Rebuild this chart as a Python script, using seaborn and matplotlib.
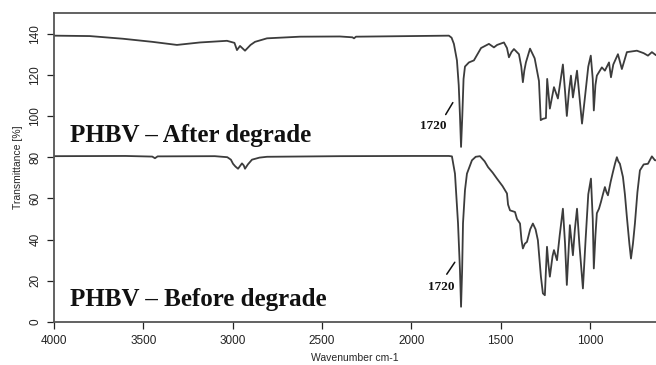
import pandas as pd
import matplotlib
matplotlib.use("Agg")
import matplotlib.pyplot as plt
import seaborn as sns

# Espectro FTIR despues de degradar
wn_after = [4000, 3800, 3614, 3450, 3312, 3183, 3032, 2990, 2976, 2959, 2931, 2900,
            2875, 2808, 2623, 2400, 2330, 2321, 2310, 2000, 1790, 1775, 1762, 1745,
            1735, 1728, 1722, 1715, 1708, 1700, 1678, 1650, 1630, 1610, 1566, 1538,
            1520, 1482, 1465, 1454, 1440, 1426, 1398, 1385, 1376, 1368, 1359, 1336,
            1310, 1286, 1276, 1264, 1247, 1240, 1225, 1202, 1180, 1152, 1140, 1130,
            1118, 1107, 1096, 1073, 1060, 1045, 1030, 1010, 996, 985, 979, 970,
            962, 934, 917, 894, 883, 870, 844, 822, 794, 738, 700, 676, 654, 631]
t_after = [139.0, 138.8, 137.5, 136.0, 134.5, 135.7, 136.5, 135.5, 132.0, 134.0, 131.7, 134.5,
           136.0, 137.7, 138.5, 138.6, 138.2, 137.7, 138.5, 138.8, 139.0, 138.0, 135.0, 127.0,
           115.0, 100.0, 85.0, 100.0, 118.0, 124.0, 126.0, 127.0, 130.0, 133.0, 135.0, 133.3,
           134.5, 135.7, 133.0, 128.5, 131.0, 132.5, 130.0, 124.0, 116.4, 122.0, 126.0, 132.7,
           128.0, 117.0, 98.0, 98.6, 99.0, 118.0, 103.6, 114.0, 108.5, 125.0, 112.0, 100.0,
           112.0, 119.6, 109.0, 122.0, 110.0, 96.3, 108.0, 124.0, 129.3, 118.0, 102.7, 115.0,
           119.6, 123.6, 122.0, 126.0, 118.8, 125.0, 130.0, 122.8, 131.0, 131.7, 130.5, 129.3,
           131.0, 129.5]

# Espectro FTIR antes de degradar
wn_before = [4000, 3600, 3450, 3435, 3420, 3100, 3030, 3010, 2998, 2985, 2970, 2948,
             2938, 2931, 2915, 2892, 2850, 2808, 2400, 2000, 1790, 1773, 1756, 1739,
             1728, 1722, 1716, 1711, 1700, 1689, 1661, 1640, 1616, 1590, 1571, 1545,
             1521, 1490, 1465, 1459, 1448, 1420, 1409, 1392, 1384, 1376, 1365, 1353,
             1335, 1320, 1305, 1292, 1275, 1264, 1253, 1247, 1241, 1233, 1225, 1210,
             1202, 1185, 1170, 1152, 1140, 1130, 1120, 1113, 1096, 1085, 1073, 1060,
             1040, 1025, 1010, 995, 985, 979, 970, 962, 950, 939, 928, 917,
             908, 900, 885, 872, 860, 850, 842, 833, 816, 805, 794, 780,
             771, 760, 749, 735, 721, 700, 676, 654, 637, 631]
t_before = [80.5, 80.6, 80.3, 79.5, 80.4, 80.5, 80.0, 78.8, 76.8, 75.5, 74.4, 77.0,
            76.0, 74.4, 76.5, 78.8, 79.8, 80.2, 80.5, 80.6, 80.6, 80.4, 72.0, 48.0,
            25.0, 7.4, 25.0, 48.0, 64.0, 72.0, 78.5, 80.2, 80.5, 78.0, 75.2, 72.5,
            69.6, 66.0, 62.4, 57.0, 54.2, 53.4, 50.0, 47.8, 40.0, 35.7, 38.0, 38.9,
            45.0, 47.8, 45.0, 39.7, 22.0, 13.9, 13.0, 25.0, 36.5, 28.0, 22.0, 32.0,
            34.9, 30.0, 42.0, 55.0, 38.0, 18.0, 35.0, 47.0, 32.4, 45.0, 55.0, 38.0,
            16.3, 40.0, 62.0, 69.6, 50.0, 26.0, 42.0, 52.8, 55.0, 58.3, 62.0, 65.5,
            63.0, 61.5, 68.0, 72.8, 77.0, 80.0, 78.0, 76.8, 70.4, 62.0, 51.0, 38.0,
            30.8, 38.0, 47.8, 63.0, 73.6, 76.5, 76.8, 80.4, 78.5, 78.5]

x_ticks = [4000, 3500, 3000, 2500, 2000, 1500, 1000]
y_ticks = [0, 20, 40, 60, 80, 100, 120, 140]

df_after = pd.DataFrame({"wn": wn_after, "t": t_after})
df_before = pd.DataFrame({"wn": wn_before, "t": t_before})

sns.set_theme(style="ticks")
plt.rcParams["font.family"] = ["Liberation Sans", "DejaVu Sans"]

fig = plt.figure(figsize=(6.56, 3.65), dpi=100)
ax = fig.add_axes([0.0823, 0.1178, 0.9177, 0.8466])

line_col = "#3c3c3c"
sns.lineplot(data=df_after, x="wn", y="t", ax=ax, sort=False, estimator=None,
             color=line_col, linewidth=1.3)
sns.lineplot(data=df_before, x="wn", y="t", ax=ax, sort=False, estimator=None,
             color=line_col, linewidth=1.3)

ax.set_xlim(4000, 631)
ax.set_ylim(0, 150)
ax.set_xticks(x_ticks)
ax.set_yticks(y_ticks)
ax.tick_params(axis="both", labelsize=8.5, colors="#222222", length=5, width=0.9, pad=4)
for lab in ax.get_yticklabels():
    lab.set_rotation(90)
    lab.set_va("center")
ax.set_xlabel("Wavenumber cm-1", fontsize=7.5, labelpad=5)
ax.set_ylabel("Transmittance [%]", fontsize=7.5, labelpad=5)

for s in ["left", "bottom", "top"]:
    ax.spines[s].set_color("#555555")
    ax.spines[s].set_linewidth(1.3)
ax.spines["right"].set_visible(False)

# Etiquetas de las muestras
serif = ["Liberation Serif", "DejaVu Serif"]
ax.text(3910, 90.5, "PHBV \u2013 After degrade", family=serif, fontweight="bold",
        fontsize=18, va="center", ha="left", color="#111111")
ax.text(3910, 11.1, "PHBV \u2013 Before degrade", family=serif, fontweight="bold",
        fontsize=18, va="center", ha="left", color="#111111")

# Marca del pico de carbonilo
ax.plot([1768, 1808], [106.5, 100.7], color="#111111", lw=1.1)
ax.text(1875, 95.0, "1720", family=serif, fontweight="bold", fontsize=9.5,
        ha="center", va="center", color="#111111")
ax.plot([1757, 1802], [29.0, 23.2], color="#111111", lw=1.1)
ax.text(1835, 17.0, "1720", family=serif, fontweight="bold", fontsize=9.5,
        ha="center", va="center", color="#111111")

fig.savefig("out.png", dpi=100)
